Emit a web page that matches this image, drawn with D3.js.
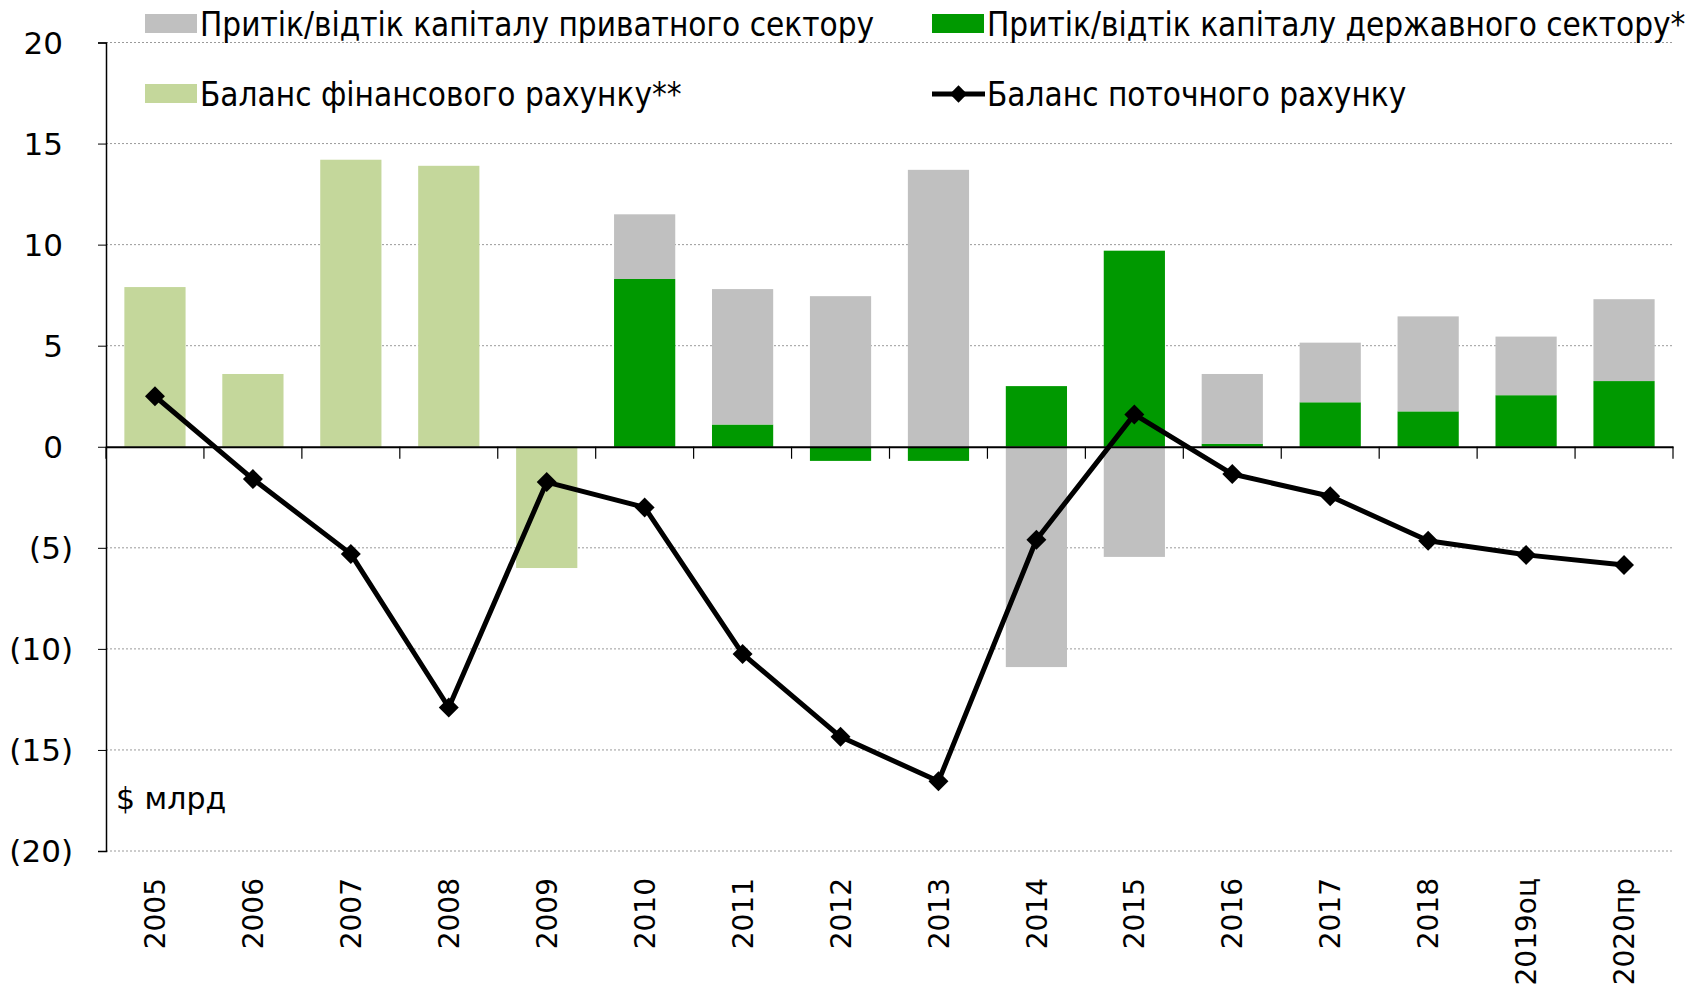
<!DOCTYPE html>
<html>
<head>
<meta charset="utf-8">
<title>Платіжний баланс</title>
<script src="https://d3js.org/d3.v7.min.js"></script>
<style>
  html, body { margin: 0; padding: 0; background: #fff; }
  svg { display: block; }
  .tick-label { font-family: "DejaVu Sans", Verdana, sans-serif; font-size: 31px; fill: #000; }
  .unit-label { font-family: "DejaVu Sans", Verdana, sans-serif; font-size: 30px; fill: #000; }
  .x-label { font-family: "DejaVu Sans", Verdana, sans-serif; font-size: 28px; fill: #000; }
  .legend-text { font-family: "Liberation Sans Narrow", "DejaVu Sans Condensed", "DejaVu Sans", sans-serif;
                 font-stretch: condensed; font-size: 33px; fill: #000; }
</style>
</head>
<body>
<div id="chart"></div>
<script>
// categories
var years = ["2005", "2006", "2007", "2008", "2009", "2010", "2011", "2012",
             "2013", "2014", "2015", "2016", "2017", "2018", "2019оц", "2020пр"];

// $ bn
var financialBalance = [7.9, 3.6, 14.2, 13.9, -6.0, 0, 0, 0, 0, 0, 0, 0, 0, 0, 0, 0];
var publicFlows      = [0, 0, 0, 0, 0, 8.3, 1.1, -0.7, -0.7, 3.0, 9.7, 0.15, 2.2, 1.75, 2.55, 3.25];
var privateFlows     = [0, 0, 0, 0, 0, 3.2, 6.7, 7.45, 13.7, -10.9, -5.45, 3.45, 2.95, 4.7, 2.9, 4.05];
var currentAccount   = [2.5, -1.6, -5.3, -12.9, -1.75, -3.0, -10.25, -14.35, -16.55, -4.6, 1.6, -1.35, -2.45, -4.65, -5.35, -5.85];

var yTicks = [-20, -15, -10, -5, 0, 5, 10, 15, 20];

var seriesNames = {
  priv: "Притік/відтік капіталу приватного сектору",
  pub:  "Притік/відтік капіталу державного сектору*",
  fin:  "Баланс фінансового рахунку**",
  ca:   "Баланс поточного рахунку"
};
var colors = { priv: "#c0c0c0", pub: "#009900", fin: "#c4d79b", ca: "#000" };

var width = 1707, height = 989;
var plot = { left: 106, right: 1673, top: 42.5, bottom: 851 };

var svg = d3.select("#chart").append("svg")
  .attr("width", width)
  .attr("height", height);

var x = d3.scaleBand()
  .domain(years)
  .range([plot.left, plot.right])
  .paddingInner(0.375)
  .paddingOuter(0.1875);

var y = d3.scaleLinear()
  .domain([-20, 20])
  .range([plot.bottom, plot.top]);

// build rows for stacking
var rows = years.map(function(yr, i) {
  return { year: yr, fin: financialBalance[i], pub: publicFlows[i], priv: privateFlows[i] };
});

var stacked = d3.stack()
  .keys(["fin", "pub", "priv"])
  .offset(d3.stackOffsetDiverging)(rows);

// gridlines (dotted)
svg.append("g")
  .selectAll("line")
  .data(yTicks.filter(function(t) { return t !== 0; }))
  .join("line")
    .attr("x1", plot.left)
    .attr("x2", plot.right)
    .attr("y1", function(d) { return y(d); })
    .attr("y2", function(d) { return y(d); })
    .attr("stroke", "#9a9a9a")
    .attr("stroke-width", 1)
    .attr("stroke-dasharray", "2,2");

// bars
svg.append("g")
  .selectAll("g")
  .data(stacked)
  .join("g")
    .attr("fill", function(s) { return colors[s.key]; })
  .selectAll("rect")
  .data(function(s) { return s; })
  .join("rect")
    .attr("x", function(d) { return x(d.data.year); })
    .attr("width", x.bandwidth())
    .attr("y", function(d) { return y(Math.max(d[0], d[1])); })
    .attr("height", function(d) { return Math.abs(y(d[0]) - y(d[1])); });

// y axis
var yAxis = d3.axisLeft(y)
  .tickValues(yTicks)
  .tickSize(8)
  .tickFormat("");
svg.append("g")
  .attr("transform", "translate(" + plot.left + ",0)")
  .call(yAxis)
  .call(function(g) {
    g.select(".domain").attr("stroke", "#000").attr("stroke-width", 1.5);
    g.selectAll(".tick line").attr("stroke", "#000");
  });

// y tick labels, Excel style: negatives in brackets
svg.append("g")
  .selectAll("text")
  .data(yTicks)
  .join("text")
    .attr("class", "tick-label")
    .attr("text-anchor", "end")
    .attr("x", function(d) { return d < 0 ? 73 : 63; })
    .attr("y", function(d) { return y(d); })
    .attr("dy", "0.36em")
    .text(function(d) { return d < 0 ? "(" + (-d) + ")" : d; });

// zero line with category ticks
var xAxis = d3.axisBottom(x).tickSize(0).tickFormat("");
svg.append("g")
  .attr("transform", "translate(0," + y(0) + ")")
  .call(xAxis)
  .call(function(g) {
    g.select(".domain").attr("stroke", "#000").attr("stroke-width", 2);
  });

var step = x.step();
svg.append("g")
  .selectAll("line")
  .data(d3.range(years.length + 1))
  .join("line")
    .attr("x1", function(i) { return plot.left + i * step; })
    .attr("x2", function(i) { return plot.left + i * step; })
    .attr("y1", y(0))
    .attr("y2", y(0) + 12)
    .attr("stroke", "#000")
    .attr("stroke-width", 1.2);

// x labels, rotated
svg.append("g")
  .selectAll("text")
  .data(years)
  .join("text")
    .attr("class", "x-label")
    .attr("text-anchor", "end")
    .attr("transform", function(d) {
      return "translate(" + (x(d) + x.bandwidth() / 2) + ",878) rotate(-90)";
    })
    .attr("dy", "0.36em")
    .text(function(d) { return d; });

// current account line
var cx = function(i) { return x(years[i]) + x.bandwidth() / 2; };
var line = d3.line()
  .x(function(d, i) { return cx(i); })
  .y(function(d) { return y(d); });

svg.append("path")
  .datum(currentAccount)
  .attr("fill", "none")
  .attr("stroke", colors.ca)
  .attr("stroke-width", 5)
  .attr("stroke-linejoin", "round")
  .attr("d", line);

var diamond = d3.symbol().type(d3.symbolSquare).size(200);
svg.append("g")
  .selectAll("path")
  .data(currentAccount)
  .join("path")
    .attr("d", diamond)
    .attr("fill", colors.ca)
    .attr("transform", function(d, i) {
      return "translate(" + cx(i) + "," + y(d) + ") rotate(45)";
    });

// unit label
svg.append("text")
  .attr("class", "unit-label")
  .attr("x", 116)
  .attr("y", 798)
  .attr("dy", "0.36em")
  .text("$ млрд");

// legend
var legendItems = [
  { key: "priv", x: 145, y: 24 },
  { key: "pub",  x: 932, y: 24 },
  { key: "fin",  x: 145, y: 94 },
  { key: "ca",   x: 932, y: 94 }
];

var lg = svg.append("g")
  .selectAll("g")
  .data(legendItems)
  .join("g")
    .attr("transform", function(d) { return "translate(" + d.x + "," + d.y + ")"; });

lg.filter(function(d) { return d.key !== "ca"; })
  .append("rect")
    .attr("x", 0)
    .attr("y", -10)
    .attr("width", 52)
    .attr("height", 19)
    .attr("fill", function(d) { return colors[d.key]; });

var lineItem = lg.filter(function(d) { return d.key === "ca"; });
lineItem.append("line")
  .attr("x1", 0).attr("x2", 53)
  .attr("y1", 0).attr("y2", 0)
  .attr("stroke", colors.ca)
  .attr("stroke-width", 5);
lineItem.append("path")
  .attr("d", d3.symbol().type(d3.symbolSquare).size(150))
  .attr("fill", colors.ca)
  .attr("transform", "translate(26.5,0) rotate(45)");

lg.append("text")
  .attr("class", "legend-text")
  .attr("x", 55)
  .attr("y", 12)
  .text(function(d) { return seriesNames[d.key]; });
</script>
</body>
</html>
